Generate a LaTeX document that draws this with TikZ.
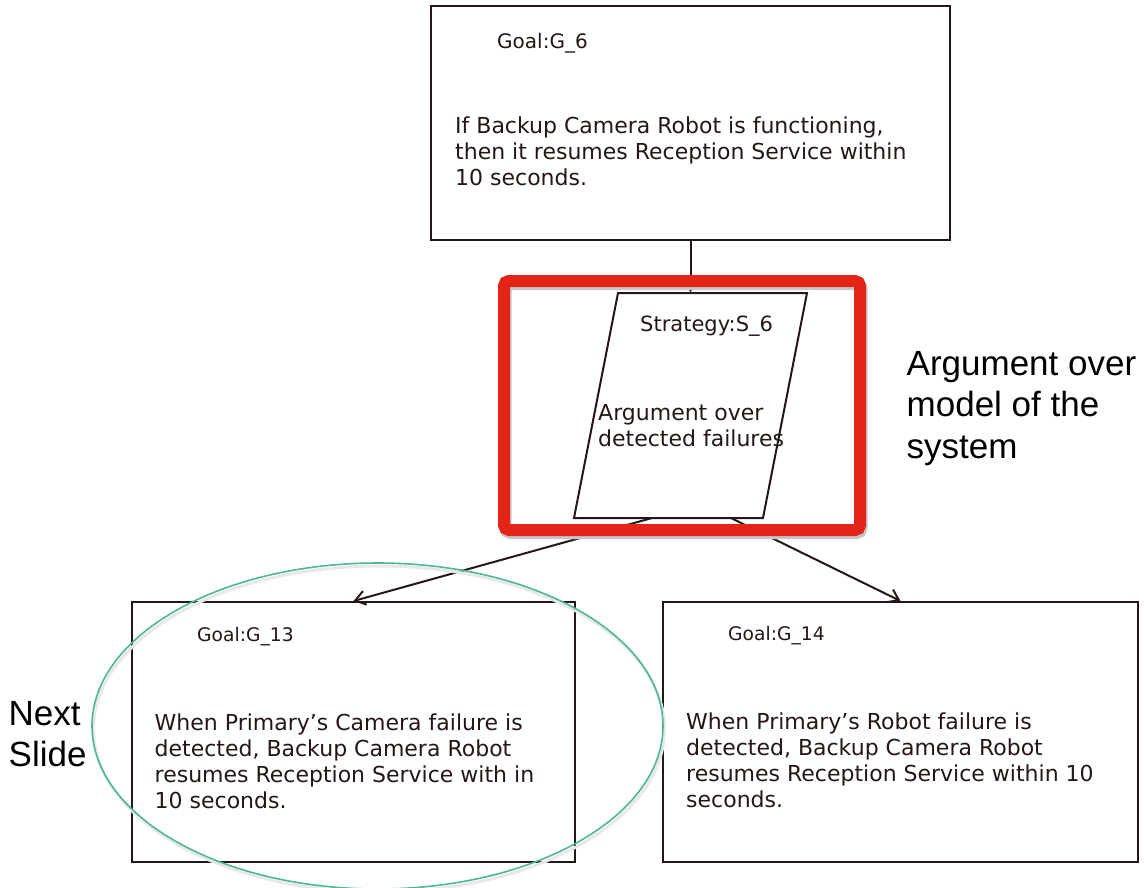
\documentclass[tikz,border=0pt]{standalone}
\usepackage{fontspec}
\setmainfont{DejaVu Sans}
\newfontfamily\arialfont{Liberation Sans}
\usetikzlibrary{arrows.meta}
\definecolor{ink}{RGB}{35,24,21}
\definecolor{hlred}{RGB}{228,36,22}
\definecolor{ovalgreen}{RGB}{77,184,151}
\newcommand{\ml}[1]{\begin{tabular}[t]{@{}l@{}}#1\end{tabular}}
\begin{document}
\begin{tikzpicture}[x=1pt,y=-1pt,
  goalbox/.style={draw=ink, line width=2pt, rectangle, inner sep=0pt},
  lbl/.style={anchor=base west, inner sep=0pt, text=ink},
  body/.style={anchor=base west, inner sep=0pt, text=ink, font=\fontsize{22}{26.3}\selectfont},
  side/.style={anchor=base west, inner sep=0pt, text=black, font=\arialfont\fontsize{35}{41.5}\selectfont},
  conn/.style={draw=ink, line width=2pt},
]
\useasboundingbox (0,0) rectangle (1144,887);
\fill[white] (0,0) rectangle (1144,887);

% goal boxes
\node[goalbox, minimum width=519pt, minimum height=234pt] (g6) at (690.5,123) {};
\node[goalbox, minimum width=443pt, minimum height=260pt] (g13) at (353.5,732) {};
\node[goalbox, minimum width=475pt, minimum height=260pt] (g14) at (900.5,732) {};

% strategy parallelogram
\draw[ink, line width=2pt] (618,293) -- (807,293) -- (763,518) -- (574,518) -- cycle;
\coordinate (s6top) at (690.5,293);
\coordinate (s6bl) at (652,518);
\coordinate (s6br) at (731,518);

% texts
\node[lbl, font=\fontsize{20}{24}\selectfont] (g6l) at (497,48) {Goal:G\_6};
\node[body] (g6t) at (455,133.3) {\ml{If Backup Camera Robot is functioning,\\then it resumes Reception Service within\\10 seconds.}};

\node[lbl, font=\fontsize{21}{25}\selectfont] (s6l) at (640,331.7) {Strategy:S\_6};
\node[body] (s6t) at (598,420) {\ml{Argument over\\detected failures}};

\node[lbl, font=\fontsize{18.7}{22}\selectfont] (g13l) at (197,641) {Goal:G\_13};
\node[body] (g13t) at (154.5,730) {\ml{When Primary’s Camera failure is\\detected, Backup Camera Robot\\resumes Reception Service with in\\10 seconds.}};

\node[lbl, font=\fontsize{18.7}{22}\selectfont] (g14l) at (728,640.7) {Goal:G\_14};
\node[body] (g14t) at (686,729) {\ml{When Primary’s Robot failure is\\detected, Backup Camera Robot\\resumes Reception Service within 10\\seconds.}};

\node[side] (arg) at (906.5,375) {\ml{Argument over\\model of the\\system}};
\node[side] (next) at (8.5,725) {\ml{Next\\Slide}};

% connectors
\draw[conn, -{Latex[length=7pt,width=8pt]}] (g6.south) -- (s6top);
\draw[conn, -{Straight Barb[length=10pt,width=14pt]}] (s6bl) -- (g13.north);
\draw[conn, -{Straight Barb[length=10pt,width=14pt]}] (s6br) -- (g14.north);

% red highlight
\draw[black!22, line width=12pt, rounded corners=5pt] (505.5,284) rectangle (861.5,533);
\draw[hlred, line width=12pt, rounded corners=5pt] (504,281) rectangle (860,530);

% green oval
\draw[black!9, line width=3pt] (379,729) ellipse [x radius=285.5, y radius=163];
\draw[ovalgreen, line width=1.6pt] (377.5,726) ellipse [x radius=285.5, y radius=163];
\end{tikzpicture}
\end{document}
